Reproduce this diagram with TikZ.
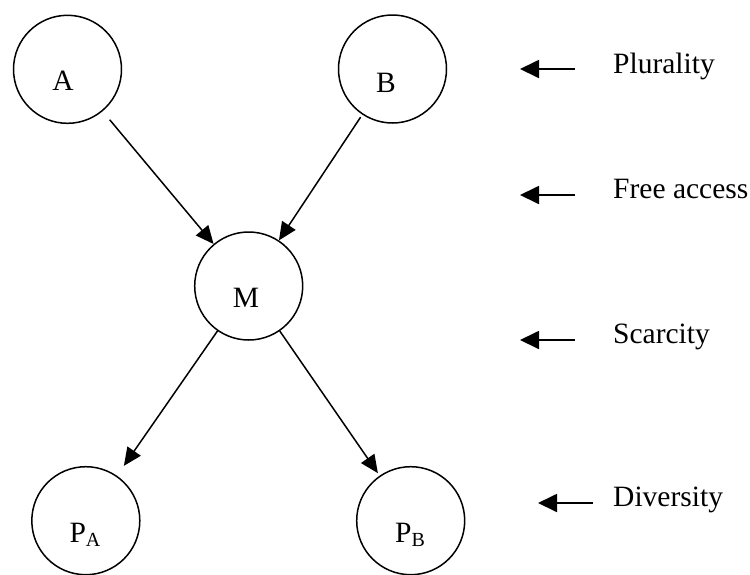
\documentclass[tikz,border=0pt]{standalone}
\usepackage{fontspec}
\setmainfont{Liberation Serif}
\usetikzlibrary{arrows.meta}
\begin{document}
\begin{tikzpicture}[x=1pt,y=-1pt,
  circ/.style={draw, circle, line width=1.5pt, minimum size=108pt, inner sep=0pt},
  lbl/.style={inner sep=0pt, font=\fontsize{29.5}{34}\selectfont},
  conn/.style={line width=1.5pt, -{Triangle[length=18pt,width=16pt]}},
  side/.style={line width=1.8pt, -{Triangle[length=19pt,width=18pt]}}
]
\useasboundingbox (0,0) rectangle (750,574);
% circles
\node[circ] (A)  at (67.5,69.3) {};
\node[circ] (B)  at (392.5,69) {};
\node[circ] (M)  at (248.7,286) {};
\node[circ] (PA) at (85.8,520.7) {};
\node[circ] (PB) at (410.7,520.7) {};
% circle labels
\node[lbl, anchor=base] (Alab) at (63,90) {A};
\node[lbl, anchor=base] (Blab) at (386,92) {B};
\node[lbl, anchor=base] (Mlab) at (246,307) {M};
\node[lbl, anchor=base] (PAlab) at (85,542) {P\raisebox{-4pt}{\fontsize{20}{20}\selectfont A}};
\node[lbl, anchor=base] (PBlab) at (410,542) {P\raisebox{-4pt}{\fontsize{20}{20}\selectfont B}};
% connectors
\draw[conn, shorten <=11pt] (A) -- (M);
\draw[conn, shorten <=3pt] (B) -- (M);
\draw[conn, shorten >=12pt] (M) -- (PA);
\draw[conn, shorten >=3pt] (M) -- (PB);
% side labels
\node[lbl, anchor=base west] (plur) at (613,73) {Plurality};
\node[lbl, anchor=base west] (free) at (613,198) {Free access};
\node[lbl, anchor=base west] (scar) at (613,343) {Scarcity};
\node[lbl, anchor=base west] (div)  at (613,506) {Diversity};
% side arrows
\coordinate (t1) at (575,69);  \coordinate (h1) at (520,69);
\coordinate (t2) at (575,195); \coordinate (h2) at (520,195);
\coordinate (t3) at (575,340); \coordinate (h3) at (520,340);
\coordinate (t4) at (593,503); \coordinate (h4) at (538,503);
\draw[side] (t1) -- (h1);
\draw[side] (t2) -- (h2);
\draw[side] (t3) -- (h3);
\draw[side] (t4) -- (h4);
\end{tikzpicture}
\end{document}
